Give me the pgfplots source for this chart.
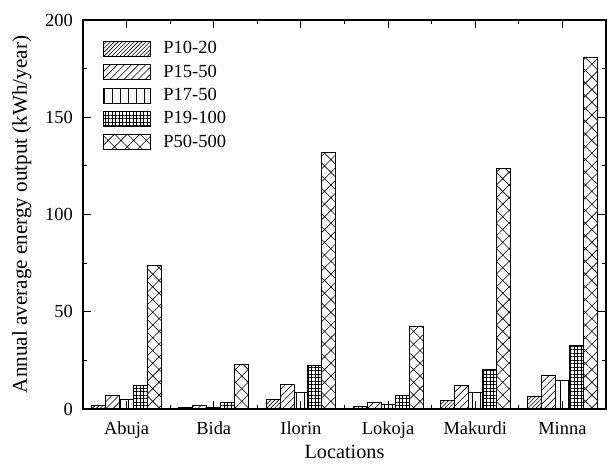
\documentclass[border=0pt]{standalone}
\usepackage{pgfplots}
\pgfplotsset{compat=1.18}
\usepackage{fontspec}
\setmainfont{Liberation Serif}
\usetikzlibrary{patterns.meta}

\begin{document}
\begin{tikzpicture}
\begin{axis}[
  scale only axis, width=523bp, height=389bp,
  xmin=-0.5, xmax=5.5, ymin=0, ymax=200,
  xtick={0,1,2,3,4,5},
  xticklabels={Abuja,Bida,Ilorin,Lokoja,Makurdi,Minna},
  minor xtick={0.5,1.5,2.5,3.5,4.5},
  ytick={0,50,100,150,200},
  minor ytick={25,75,125,175},
  tick align=inside,
  major tick length=8bp, minor tick length=4bp,
  axis line style={line width=1.2bp},
  every tick/.style={black, line width=1bp},
  tick label style={font=\fontsize{18.5}{20}\selectfont},
  xticklabel style={anchor=base, yshift=-25bp},
  yticklabel style={anchor=east, inner sep=0pt, xshift=-10bp},
  /pgf/number format/assume math mode=true,
  xlabel={Locations},
  ylabel={Annual average energy output (kWh/year)},
  xlabel style={at={(axis description cs:0.5,-0.1285)}, anchor=base,
    font=\fontsize{20.3}{22}\selectfont},
  ylabel style={at={(axis description cs:-0.1071,0.5)}, anchor=base,
    font=\fontsize{21.2}{23}\selectfont},
  legend image code/.code={\draw[#1] (0bp,-7.5bp) rectangle (47bp,7.5bp);},
  legend style={at={(axis description cs:0.0377,0.9468)}, anchor=north west,
    draw=none, fill=none, inner sep=0pt, row sep=7.6bp, column sep=12.6bp,
    font=\fontsize{18.6}{20}\selectfont,
    nodes={inner sep=0pt, text height=12.5bp, text depth=2.5bp}},
  legend cell align=left,
  clip=false,
]
\addplot[ybar, bar width=0.16, bar shift=-0.32, draw=black, line width=0.8bp,
  pattern={Lines[angle=45,distance=2.8bp,line width=0.6bp]}]
  coordinates {(0,2) (1,0.6) (2,5) (3,1.3) (4,4.5) (5,6.5)};
\addlegendentry{P10-20}
\addplot[ybar, bar width=0.16, bar shift=-0.16, draw=black, line width=0.8bp,
  pattern={Lines[angle=45,distance=5bp,line width=0.6bp]}]
  coordinates {(0,7) (1,2) (2,12.5) (3,3.5) (4,12) (5,17.5)};
\addlegendentry{P15-50}
\addplot[ybar, bar width=0.16, bar shift=0, draw=black, line width=0.8bp,
  pattern={Lines[angle=90,distance=8bp,line width=0.6bp]}]
  coordinates {(0,5) (1,1) (2,8.5) (3,2.5) (4,8.5) (5,14.5)};
\addlegendentry{P17-50}
\addplot[ybar, bar width=0.16, bar shift=0.16, draw=black, line width=0.8bp,
  pattern={Hatch[angle=0,distance=3.5bp,line width=0.6bp]}]
  coordinates {(0,12) (1,3.5) (2,22.5) (3,7) (4,20.5) (5,32.5)};
\addlegendentry{P19-100}
\addplot[ybar, bar width=0.16, bar shift=0.32, draw=black, line width=0.8bp,
  pattern={Hatch[angle=45,distance=9bp,line width=0.6bp]}]
  coordinates {(0,74) (1,23) (2,132) (3,42.7) (4,123.7) (5,181)};
\addlegendentry{P50-500}
\coordinate (ll) at (rel axis cs:0,0);
\coordinate (ur) at (rel axis cs:1,1);
\end{axis}
\path (ll) ++(-83bp,-56bp) (ur) ++(2bp,20bp);
\end{tikzpicture}
\end{document}
